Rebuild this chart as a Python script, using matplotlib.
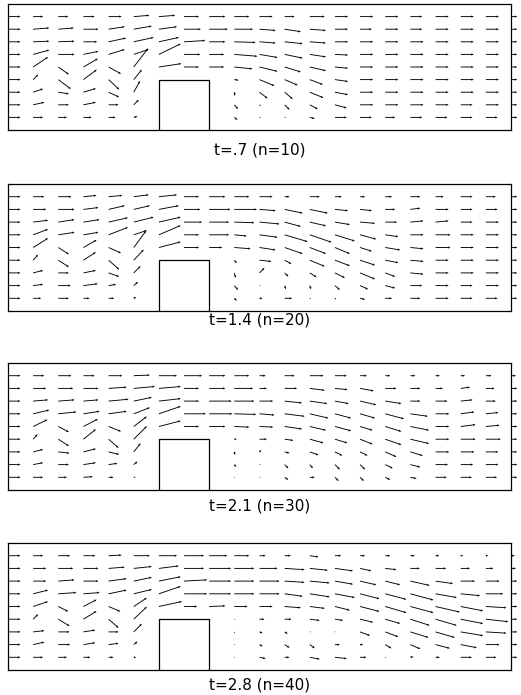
import numpy as np
import matplotlib
matplotlib.use('Agg')
import matplotlib.pyplot as plt

N = np.nan

# grid of the velocity nodes (columns x = 0..20, rows from top y = 9..1)
xs = list(range(21))
ys = [9, 8, 7, 6, 5, 4, 3, 2, 1]
titles = ['t=.7 (n=10)', 't=1.4 (n=20)', 't=2.1 (n=30)', 't=2.8 (n=40)']
step_x = [6, 8]
step_h = 4

# t = .7
u1 = [
    [1.0, .8, .8, .9, 1.05, 1.25, 1.3, 1.2, 1.3, 1.2, 1.05, .8, 1.2, 1.05, 1.05, 1.05, .95, 1.05, 1.05, 1.05, .5],
    [1.0, 1.3, 1.25, 1.2, 1.3, 1.45, 1.45, 1.35, 1.5, 1.5, 1.3, 1.3, 1.3, 1.05, .95, 1.05, .95, 1.05, 1.05, 1.05, .5],
    [1.0, 1.3, 1.3, 1.1, 1.4, 1.6, 1.6, 1.7, 1.3, 1.7, 1.3, 1.45, 1.3, 1.05, 1.05, 1.05, 1.05, 1.05, 1.05, 1.05, .5],
    [1.0, 1.3, 1.3, 1.2, 1.3, 1.2, 1.75, 1.3, 1.2, 1.85, 1.45, 1.45, 1.3, 1.05, 1.05, 1.05, 1.05, 1.05, 1.05, 1.05, .5],
    [1.0, 1.2, .85, 1.15, 1.0, 1.15, 1.8, 1.2, 1.2, 1.45, 1.45, 1.3, 1.3, 1.05, 1.05, 1.05, 1.05, 1.05, 1.05, 1.05, .5],
    [1.0, .4, 1.0, 1.07, .85, .65, N, N, N, .35, 1.2, 1.05, 1.05, 1.05, 1.05, 1.05, 1.05, 1.05, 1.05, 1.05, .5],
    [1.0, .8, .85, 1.0, .85, .5, N, N, N, .05, .65, .65, 1.1, 1.05, 1.05, 1.05, 1.05, 1.05, 1.05, 1.05, .5],
    [1.0, .9, .85, 1.0, .8, .4, N, N, N, .3, .1, .4, .65, .95, 1.05, 1.05, 1.05, 1.05, .95, 1.05, .5],
    [1.0, .8, .7, .65, .55, .3, N, N, N, .25, .1, .1, .4, .95, .95, .8, .95, .95, .95, .95, .5],
]
v1 = [
    [0, 0, 0, 0, 0, .1, .1, 0, 0, 0, 0, 0, 0, 0, 0, 0, 0, 0, 0, 0, 0],
    [0, .1, .1, 0, .2, .25, .2, 0, 0, 0, -.1, -.2, -.1, 0, 0, 0, 0, 0, 0, 0, 0],
    [0, .05, .05, 0, .3, .35, .35, .1, 0, -.05, -.1, -.15, -.1, 0, 0, 0, 0, 0, 0, 0, 0],
    [0, .35, 0, .25, .4, .4, .85, 0, 0, -.15, -.25, -.3, -.2, -.05, 0, 0, 0, 0, 0, 0, 0],
    [0, .8, -.6, .67, -.55, 1.5, .27, 0, 0, -.15, -.35, -.4, -.3, -.1, 0, 0, 0, 0, 0, 0, 0],
    [0, .4, -.75, .8, -.8, .8, N, N, N, -.05, -.5, -.45, -.4, -.15, 0, 0, 0, 0, 0, 0, 0],
    [0, .27, -.13, .3, -.4, .9, N, N, N, -.3, -.5, -.55, -.45, -.2, 0, 0, 0, 0, 0, 0, 0],
    [0, .2, 0, .2, 0, .4, N, N, N, -.35, -.1, -.4, -.35, -.25, 0, 0, 0, 0, 0, 0, 0],
    [0, 0, 0, 0, 0, .1, N, N, N, -.2, -.05, -.05, -.1, 0, 0, 0, 0, 0, 0, 0, 0],
]

# t = 1.4
u2 = [
    [1.0, .9, 1.05, 1.05, 1.1, 1.2, 1.45, 1.2, 1.3, 1.2, 1.05, .4, .8, .55, .4, .55, .8, .65, .95, .8, .5],
    [1.0, 1.05, 1.3, 1.2, 1.3, 1.3, 1.6, 1.3, 1.7, 1.8, 1.3, 1.45, 1.45, 1.05, .95, .8, .8, 1.05, .95, .95, .5],
    [1.0, 1.2, 1.3, 1.3, 1.55, 1.6, 1.75, 1.45, 1.6, 1.6, 1.6, 1.3, 1.3, 1.2, 1.2, .95, 1.05, 1.05, .95, 1.05, .5],
    [1.0, 1.2, 1.3, 1.2, 1.55, 1.05, 1.75, 1.2, 1.6, 1.0, 1.45, 1.85, 1.75, 1.6, 1.3, 1.05, 1.05, 1.2, 1.05, 1.05, .5],
    [1.0, 1.2, .85, 1.05, 1.0, 1.0, 1.75, 1.2, 1.05, 1.3, 1.3, 1.45, 1.3, 1.2, .95, 1.2, 1.05, 1.2, 1.05, 1.05, .5],
    [1.0, .4, .85, 1.0, .85, .8, N, N, N, .2, .95, .55, 1.2, 1.2, 1.2, 1.05, 1.05, 1.05, 1.05, 1.05, .5],
    [1.0, .8, .85, 1.0, .85, .55, N, N, N, .1, .4, .3, .55, .8, 1.2, .8, 1.05, 1.05, 1.05, 1.05, .5],
    [1.0, .8, 1.0, 1.15, .6, .35, N, N, N, .3, .1, .1, .1, .4, .65, .8, .95, 1.05, .95, 1.05, .5],
    [1.0, .65, .85, .5, .45, .2, N, N, N, .2, .25, .6, .1, .1, .4, .55, .8, 1.05, .95, .95, .5],
]
v2 = [
    [0, 0, 0, .1, .1, .15, .15, 0, 0, 0, 0, 0, 0, 0, 0, 0, 0, 0, 0, 0, 0],
    [0, 0, 0, .15, .3, .3, .3, 0, 0, 0, -.1, -.3, -.3, -.1, -.1, 0, .1, 0, 0, 0, 0],
    [0, .15, .2, .2, .35, .4, .4, 0, 0, -.05, -.15, -.35, -.3, -.2, -.1, 0, .1, .1, 0, 0, 0],
    [0, .45, .2, .2, .6, .35, .75, 0, 0, -.1, -.2, -.55, -.6, -.5, -.35, -.15, 0, 0, 0, 0, 0],
    [0, .75, -.55, .6, -.45, 1.35, .45, 0, 0, -.1, -.2, -.5, -.5, -.5, -.3, -.2, -.1, 0, 0, 0, 0],
    [0, .45, -.55, .65, -.75, .85, N, N, N, -.25, -.1, -.3, -.5, -.45, -.4, -.2, -.1, 0, 0, 0, 0],
    [0, .2, 0, .2, -.3, .55, N, N, N, -.4, .4, -.3, -.35, -.4, -.5, -.3, -.1, 0, 0, 0, 0],
    [0, .1, 0, .15, .1, .3, N, N, N, -.35, 0, -.3, -.3, -.35, -.3, -.2, 0, 0, 0, 0, 0],
    [0, 0, 0, 0, 0, .1, N, N, N, -.2, 0, 0, -.05, -.1, -.1, 0, 0, 0, 0, 0, 0],
]

# t = 2.1
u3 = [
    [1.0, .9, 1.05, .9, 1.1, 1.3, 1.45, 1.45, 1.3, 1.2, .5, .8, 1.1, .95, .55, .4, .4, .35, .35, .45, .4],
    [1.0, 1.05, 1.2, 1.2, 1.45, 1.7, 1.75, 1.2, 1.3, 1.5, .6, 1.0, 1.2, 1.0, 1.1, .9, .8, .6, .75, .7, .5],
    [1.0, 1.2, 1.3, 1.2, 1.6, 1.45, 1.75, 1.2, 1.8, 1.6, 1.1, 1.4, 1.4, 1.1, 1.3, 1.3, .8, .95, .95, .8, .5],
    [1.0, 1.3, 1.45, 1.3, 1.45, 1.3, 1.75, 1.75, 1.85, 1.75, 1.2, 1.6, 1.5, 1.3, 1.2, 1.5, 1.4, 1.1, 1.1, 1.0, .5],
    [1.0, 1.15, .85, 1.15, 1.0, 1.05, 1.75, 1.2, 1.3, 1.2, 1.1, 1.4, 1.3, 1.3, 1.0, 1.3, 1.5, 1.1, 1.2, 1.1, .5],
    [1.0, .35, .85, 1.0, .8, 1.05, N, N, N, .2, .6, .7, 1.1, 1.0, 1.0, 1.3, 1.5, 1.1, 1.2, 1.2, .5],
    [1.0, .8, .9, 1.0, .85, .55, N, N, N, .05, .15, .4, .7, .6, .6, .9, 1.0, 1.1, 1.1, 1.0, .5],
    [1.0, .8, .85, 1.0, .7, .3, N, N, N, .15, .1, .3, .25, .4, .4, .6, .8, 1.0, 1.0, 1.0, .5],
    [1.0, .8, .7, .75, .4, .15, N, N, N, .05, .1, .3, .4, .3, .3, .4, .5, .9, .9, .9, .5],
]
v3 = [
    [0, 0, 0, 0, 0, .05, 0, 0, 0, 0, 0, 0, 0, 0, 0, 0, 0, 0, 0, 0, 0],
    [0, 0, 0, 0, .1, .15, .15, 0, 0, 0, 0, 0, -.15, -.1, -.2, 0, 0, 0, .1, 0, 0],
    [0, .1, .1, .1, .15, .3, .2, 0, 0, 0, 0, -.15, -.2, -.2, -.3, -.2, 0, 0, .1, 0, 0],
    [0, .3, .15, .2, .2, .5, .6, 0, 0, -.05, -.1, -.2, -.35, -.35, -.35, -.4, -.2, 0, .15, .1, 0],
    [0, .55, -.45, .6, -.4, .8, .45, 0, 0, -.05, -.05, -.2, -.3, -.35, -.3, -.4, -.3, 0, .15, .1, 0],
    [0, .4, -.55, .8, -.7, 1.05, N, N, N, 0, 0, -.1, -.3, -.3, -.4, -.45, -.35, 0, 0, 0, 0],
    [0, .2, -.1, .25, -.2, .7, N, N, N, -.25, .15, -.1, -.25, -.3, -.3, -.4, -.3, 0, 0, 0, 0],
    [0, .15, 0, .15, .1, .25, N, N, N, -.2, 0, -.3, -.3, -.4, -.4, -.3, -.2, 0, 0, 0, 0],
    [0, 0, 0, .05, 0, 0, N, N, N, -.05, 0, -.2, 0, -.3, -.3, -.2, -.1, 0, 0, 0, 0],
]

# t = 2.8
u4 = [
    [1.0, .8, .95, .95, 1.05, 1.3, 1.45, 1.6, 1.45, 1.2, .5, .5, .7, .5, .4, .4, .35, .3, .2, .2, .3],
    [1.0, 1.05, 1.2, 1.2, 1.3, 1.45, 1.6, 1.6, 1.75, 1.6, 1.45, 1.6, 1.45, 1.45, .9, .9, .75, .85, .75, .6, .4],
    [1.0, 1.05, 1.3, 1.2, 1.45, 1.45, 1.75, 1.85, 1.75, 1.6, 1.6, 1.6, 1.6, 1.45, 1.3, 1.2, 1.55, 1.4, 1.15, 1.1, .5],
    [1.0, 1.2, 1.45, 1.3, 1.45, 1.45, 1.75, 1.85, 1.75, 1.6, 1.6, 1.45, 1.6, 1.6, 1.55, 1.7, 1.85, 1.7, 1.55, 1.4, .5],
    [1.0, 1.2, .8, 1.05, .95, 1.05, 1.85, 1.05, 1.3, 1.05, 1.05, 1.3, 1.2, 1.2, 1.55, 1.7, 1.85, 1.95, 1.8, 1.65, .5],
    [1.0, .4, .9, 1.05, .8, 1.05, N, N, N, .1, .4, .55, .8, .65, 1.05, 1.2, 1.55, 1.7, 1.8, 1.8, .5],
    [1.0, .9, .9, .95, .8, .65, N, N, N, .05, .25, .25, .1, .05, .8, 1.05, 1.45, 1.55, 1.8, 1.65, .5],
    [1.0, .9, .95, .95, .8, .3, N, N, N, .05, .25, .4, .4, .4, .25, .5, .8, 1.15, 1.3, 1.1, .5],
    [1.0, .8, .7, .55, .4, .2, N, N, N, .05, .5, .4, .8, .95, .5, .1, .25, .35, .9, .85, .5],
]
v4 = [
    [0, 0, 0, 0, .05, 0, 0, 0, 0, 0, 0, 0, -.1, 0, 0, 0, 0, 0, 0, 0, 0],
    [0, 0, 0, 0, .1, .15, .2, 0, 0, 0, 0, -.1, -.15, -.2, -.2, -.1, 0, 0, 0, 0, 0],
    [0, 0, .1, 0, .2, .3, .35, .1, 0, 0, 0, -.1, -.15, -.25, -.3, -.3, -.35, -.2, 0, 0, 0],
    [0, .3, .1, .1, .3, .35, .6, 0, 0, 0, 0, -.2, -.25, -.3, -.4, -.45, -.5, -.3, -.15, 0, 0],
    [0, .4, -.4, .55, -.4, .7, .4, 0, .05, 0, 0, -.1, -.15, -.3, -.4, -.5, -.5, -.45, -.35, -.1, 0],
    [0, .4, -.55, .65, -.7, 1.0, N, N, N, 0, 0, 0, -.1, -.1, -.25, -.35, -.5, -.5, -.35, -.2, 0],
    [0, .1, 0, .15, 0, .65, N, N, N, -.1, -.1, -.15, 0, 0, -.3, -.4, -.45, -.45, -.3, -.1, 0],
    [0, .2, 0, .15, .1, .25, N, N, N, -.05, -.15, -.25, -.3, 0, 0, -.3, -.35, -.3, -.25, 0, 0],
    [0, 0, 0, 0, 0, 0, N, N, N, 0, -.1, 0, -.15, -.1, 0, 0, .05, 0, 0, 0, 0],
]

us = [u1, u2, u3, u4]
vs = [v1, v2, v3, v4]

fig = plt.figure(figsize=(5.21, 6.95), dpi=100)
H = 695.0
frames = [(4, 130), (184, 311), (363, 490), (543, 670)]  # top, bottom in px
title_y = [150, 320, 506, 685]

X, Y = np.meshgrid(xs, ys)
for k in range(4):
    top, bot = frames[k]
    ax = fig.add_axes([8 / 521, (H - bot) / H, 503 / 521, (bot - top) / H])
    U = np.ma.masked_invalid(np.array(us[k], dtype=float))
    V = np.ma.masked_invalid(np.array(vs[k], dtype=float))
    q = ax.quiver(X, Y, U, V, angles='uv', scale_units='inches', scale=8,
                  pivot='tail', units='dots', width=0.9, headwidth=2.6,
                  headlength=3, headaxislength=2.6, color='k')
    q.set_clip_on(False)
    ax.plot([step_x[0], step_x[0], step_x[1], step_x[1]],
            [0, step_h, step_h, 0], color='k', lw=0.9)
    ax.set_xlim(0, 20)
    ax.set_ylim(0, 10)
    ax.set_xticks([])
    ax.set_yticks([])
    for s in ax.spines.values():
        s.set_linewidth(0.9)
    fig.text(260 / 521, 1 - title_y[k] / H, titles[k], ha='center',
             va='center', fontsize=11)

fig.savefig('out.png', dpi=100)
